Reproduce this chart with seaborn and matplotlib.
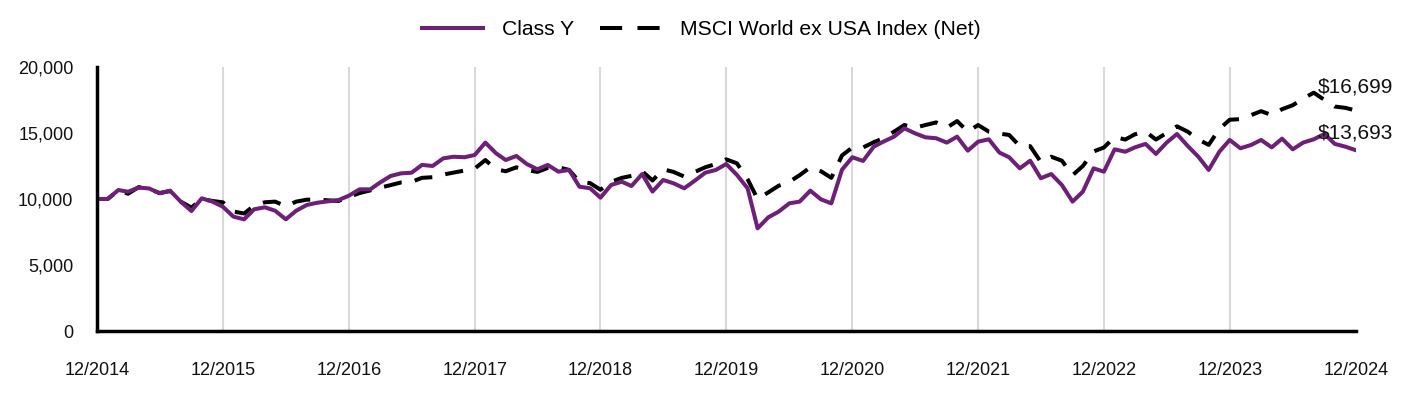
import pandas as pd
import matplotlib.pyplot as plt
import seaborn as sns
import matplotlib.dates as mdates
from matplotlib.ticker import FuncFormatter

# monthly growth of a $10,000 investment, 12/2014 - 12/2024
class_y = [10000,
           10000, 10680, 10550, 10860, 10800, 10430, 10630, 9800, 9090, 10050, 9800, 9420,
           8660, 8460, 9220, 9370, 9110, 8460, 9110, 9550, 9720, 9820, 9920, 10250,
           10730, 10730, 11240, 11740, 11940, 11990, 12580, 12500, 13080, 13200, 13160, 13330,
           14270, 13460, 12950, 13260, 12650, 12250, 12580, 12070, 12200, 10930, 10810, 10100,
           11060, 11310, 10980, 11890, 10560, 11440, 11190, 10810, 11390, 11990, 12200, 12650,
           11820, 10810, 7780, 8610, 9040, 9670, 9800, 10630, 9970, 9670, 12220, 13160,
           12880, 13960, 14340, 14720, 15350, 14970, 14670, 14600, 14270, 14720, 13660, 14340,
           14520, 13510, 13160, 12320, 12900, 11570, 11890, 11060, 9800, 10560, 12320, 12070,
           13760, 13580, 13910, 14170, 13410, 14270, 14920, 14020, 13200, 12200, 13580, 14470,
           13840, 14090, 14470, 13910, 14570, 13760, 14270, 14520, 14920, 14170, 13960, 13693]

msci = [10000,
        10000, 10650, 10400, 10900, 10750, 10450, 10600, 9800, 9350, 10000, 9850, 9750,
        9050, 8900, 9500, 9750, 9800, 9450, 9800, 9950, 9950, 9900, 9850, 10150,
        10450, 10650, 10850, 11050, 11250, 11300, 11600, 11650, 11850, 12000, 12150, 12300,
        12950, 12250, 12100, 12400, 12200, 12050, 12350, 12400, 12200, 11300, 11200, 10700,
        11300, 11600, 11750, 12100, 11400, 12250, 12050, 11700, 12050, 12400, 12650, 13000,
        12700, 11500, 10000, 10500, 11000, 11300, 11800, 12400, 12100, 11600, 13300, 13900,
        13900, 14300, 14600, 15100, 15600, 15400, 15600, 15800, 15400, 15900, 15100, 15600,
        15100, 14950, 14850, 14000, 14000, 12800, 13200, 12900, 11800, 12500, 13600, 13900,
        14700, 14500, 14900, 15100, 14500, 15000, 15500, 15100, 14500, 14100, 15300, 16000,
        16050, 16350, 16650, 16350, 16800, 17100, 17600, 18050, 17500, 17000, 16900, 16699]

series_names = ['Class Y', 'MSCI World ex USA Index (Net)']
end_labels = ['$13,693', '$16,699']

dates = pd.date_range(start='2014-12-01', periods=len(class_y), freq='MS')
df = pd.DataFrame({'Date': dates, series_names[0]: class_y, series_names[1]: msci})
long_df = df.melt(id_vars='Date', var_name='Series', value_name='Value')

plt.rcParams['font.family'] = ['Liberation Sans', 'DejaVu Sans']

fig = plt.figure(figsize=(14.16, 3.96), dpi=100)
ax = fig.add_axes([0.0685, 0.164, 0.889, 0.667])

# vertical grid lines at each year
xtick_locs = pd.date_range(start='2014-12-01', end='2024-12-01', freq='12MS')
for d in xtick_locs[1:-1]:
    ax.axvline(d, color='#d9d9d9', lw=1.5, zorder=0)

sns.lineplot(data=long_df, x='Date', y='Value', hue='Series', style='Series', ax=ax,
             palette={series_names[0]: '#6e1f78', series_names[1]: 'black'},
             dashes={series_names[0]: '', series_names[1]: (4.5, 3.3)},
             hue_order=series_names[::-1], style_order=series_names[::-1],
             linewidth=2.9)

ax.set_xlim(dates[0], dates[-1])
ax.set_ylim(0, 20000)
ax.set_xticks(xtick_locs)
ax.xaxis.set_major_formatter(mdates.DateFormatter('%m/%Y'))
ax.set_yticks([0, 5000, 10000, 15000, 20000])
ax.yaxis.set_major_formatter(FuncFormatter(lambda v, p: f'{int(v):,}'))
ax.tick_params(axis='both', length=0, labelsize=13, colors='#111111')
ax.tick_params(axis='x', pad=22)
ax.tick_params(axis='y', pad=17)
ax.set_xlabel('')
ax.set_ylabel('')

for side in ['top', 'right']:
    ax.spines[side].set_visible(False)
for side in ['left', 'bottom']:
    ax.spines[side].set_linewidth(2.5)
    ax.spines[side].set_color('black')

# end-of-period value labels
ax.text(dates[-1], class_y[-1] + 1300, end_labels[0], ha='center', va='center', fontsize=15, color='#111111')
ax.text(dates[-1], msci[-1] + 1790, end_labels[1], ha='center', va='center', fontsize=15, color='#111111')

handles, labels = ax.get_legend_handles_labels()
order = [labels.index(n) for n in series_names]
leg = ax.legend([handles[i] for i in order], [labels[i] for i in order],
                loc='center', bbox_to_anchor=(0.48, 1.14), ncol=2, frameon=False,
                fontsize=15.2, handlelength=2.9, columnspacing=1.2, handletextpad=0.9)
leg.get_lines()[1].set_dashes((5.5, 3.8))

plt.savefig('out.png', dpi=100)
